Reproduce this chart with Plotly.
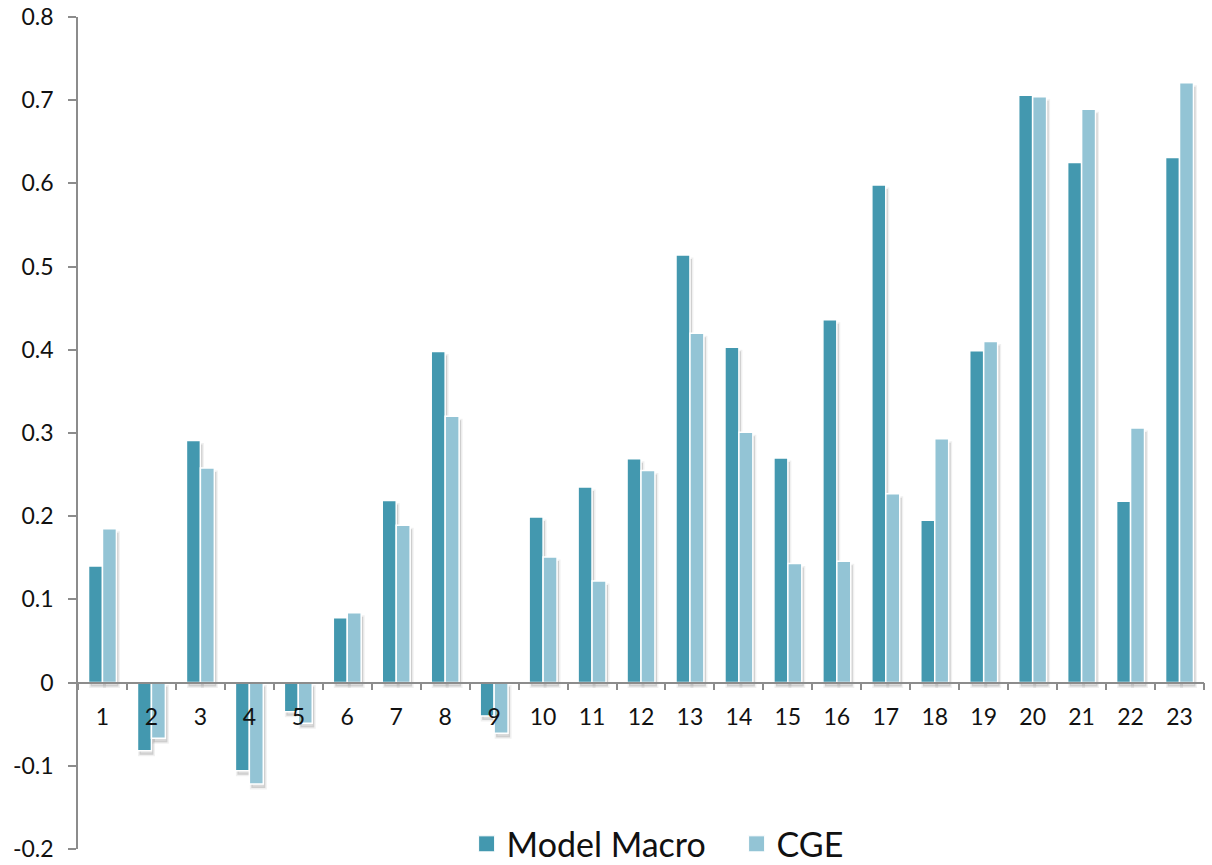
import plotly.graph_objects as go

categories = [str(i) for i in range(1, 24)]
model_macro = [0.140, -0.082, 0.291, -0.106, -0.035, 0.078, 0.219, 0.398, -0.040,
               0.199, 0.235, 0.269, 0.514, 0.403, 0.270, 0.436, 0.598, 0.195,
               0.399, 0.706, 0.625, 0.218, 0.631]
cge = [0.185, -0.067, 0.258, -0.122, -0.049, 0.084, 0.189, 0.320, -0.061,
       0.151, 0.122, 0.255, 0.420, 0.301, 0.143, 0.146, 0.227, 0.293,
       0.410, 0.704, 0.689, 0.306, 0.721]
y_ticks = [-0.2, -0.1, 0, 0.1, 0.2, 0.3, 0.4, 0.5, 0.6, 0.7, 0.8]
y_tick_text = ["-0.2", "-0.1", "0", "0.1", "0.2", "0.3", "0.4", "0.5", "0.6", "0.7", "0.8"]

DARK = "#4398AF"
LIGHT = "#93C4D5"
AXIS = "#8C8C8C"
FONT = "Lato, 'Open Sans', sans-serif"

W, H = 1212, 865
MARGIN = dict(l=78, r=8, t=17, b=16)
y_min, y_max = -0.2, 0.8
n_cat = len(categories)

# offsets for the soft drop shadow behind each bar (a few pixels right and down)
px_per_cat = (W - MARGIN["l"] - MARGIN["r"]) / n_cat
px_per_unit = (H - MARGIN["t"] - MARGIN["b"]) / (y_max - y_min)
dx = 2.0 / px_per_cat
dy = 4.0 / px_per_unit

series = [("Model Macro", model_macro, DARK), ("CGE", cge, LIGHT)]

fig = go.Figure()

# shadow layer on the hidden base axes
for name, values, _ in series:
    fig.add_trace(go.Bar(x=categories, y=values, name=name, showlegend=False,
                         hoverinfo="skip", xaxis="x", yaxis="y",
                         marker=dict(color="rgba(0,0,0,0.14)",
                                     line=dict(color="rgba(0,0,0,0.06)", width=3))))

# visible bars on the overlaying axes
for name, values, color in series:
    fig.add_trace(go.Bar(x=categories, y=values, name=name, showlegend=False,
                         xaxis="x2", yaxis="y2",
                         marker=dict(color=color, line=dict(color="white", width=1.5))))

# legend entries with larger square swatches
for name, _, color in series:
    fig.add_trace(go.Scatter(x=[None], y=[None], mode="markers", name=name,
                             xaxis="x2", yaxis="y2",
                             marker=dict(symbol="square", size=20, color=color,
                                         line=dict(color="white", width=1))))

fig.update_layout(
    width=W, height=H,
    margin=dict(**MARGIN, autoexpand=False),
    paper_bgcolor="white", plot_bgcolor="white",
    barmode="group", bargap=0.43, bargroupgap=0.0,
    font=dict(family=FONT, color="#111111", size=23),
    showlegend=True,
    legend=dict(orientation="h", xref="container", yref="container",
                x=0.385, xanchor="left", y=0.024, yanchor="middle",
                font=dict(size=34, family=FONT), bgcolor="rgba(0,0,0,0)",
                itemsizing="trace", entrywidth=225, entrywidthmode="pixels"),
    xaxis=dict(type="category", range=[-0.5 - dx, n_cat - 0.5 - dx],
               visible=False, fixedrange=True),
    yaxis=dict(range=[y_min + dy, y_max + dy], visible=False, fixedrange=True),
    xaxis2=dict(
        type="category", overlaying="x", anchor="free",
        position=(0 - y_min) / (y_max - y_min), range=[-0.5, n_cat - 0.5],
        showline=True, linecolor=AXIS, linewidth=1.5,
        ticks="outside", tickson="boundaries", ticklen=7, tickcolor=AXIS, tickwidth=1.5,
        showgrid=False, zeroline=False, tickfont=dict(size=23), ticklabelstandoff=14,
    ),
    yaxis2=dict(
        overlaying="y", side="left", anchor="x2",
        range=[y_min, y_max], tickvals=y_ticks, ticktext=y_tick_text,
        showline=True, linecolor=AXIS, linewidth=1.5,
        ticks="outside", ticklen=8, tickcolor=AXIS, tickwidth=1.5,
        showgrid=False, zeroline=False, tickfont=dict(size=23), ticklabelstandoff=10,
    ),
)

fig.write_html("out.html")
